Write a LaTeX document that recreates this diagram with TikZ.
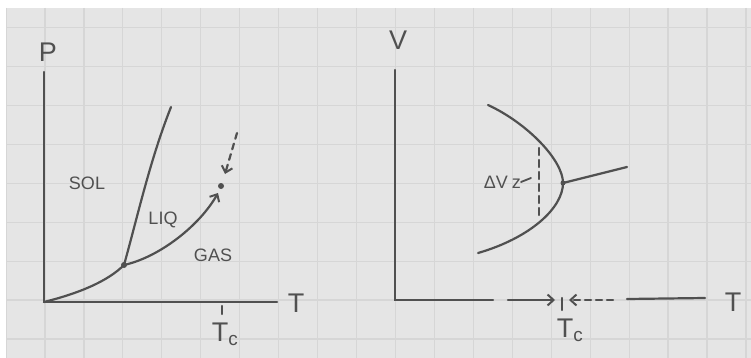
\documentclass[tikz,border=0pt]{standalone}
\usepackage{fontspec}
\setmainfont{Liberation Sans}
\usetikzlibrary{arrows.meta}
\definecolor{paper}{RGB}{229,229,229}
\definecolor{gridc}{RGB}{214,214,214}
\definecolor{pencil}{RGB}{80,80,80}
\begin{document}
\begin{tikzpicture}[x=1pt,y=-1pt,
  pen/.style={draw=pencil, line width=2.2pt, line cap=round},
  dsh/.style={pen, dash pattern=on 6pt off 5pt},
  lbl/.style={text=pencil, font=\fontsize{18}{18}\selectfont, inner sep=0pt},
  big/.style={text=pencil, font=\fontsize{27}{27}\selectfont, inner sep=0pt},
  barb/.style={-{Straight Barb[length=6pt,width=11pt,line width=2pt]}},
  pt/.style={circle, fill=pencil, inner sep=0pt, minimum size=6pt}]
\useasboundingbox (0,0) rectangle (751,358);
\fill[white] (0,0) rectangle (751,358);
\fill[paper] (6,8) rectangle (751,358);
\begin{scope}
  \clip (6,8) rectangle (751,358);
  \foreach \k in {-1,...,18} \draw[gridc, line width=1.2pt] ({45+\k*38.94},8) -- ({45+\k*38.94},358);
  \foreach \k in {-1,...,8} \draw[gridc, line width=1.2pt] (6,{300-\k*38.9}) -- (751,{300-\k*38.9});
\end{scope}

% ---------- left panel: P-T diagram ----------
\coordinate (O1) at (44,302);
\coordinate (Ptop) at (44,72);
\coordinate (Tend) at (277,302);
\draw[pen] (Ptop) -- (O1) -- (Tend);
\node[big] (P) at (48,52) {P};
\node[big] (T1) at (296,303) {T};
\coordinate (tk1a) at (222,306);
\coordinate (tk1b) at (222,314);
\draw[pen] (tk1a) -- (tk1b);
\node[big] (Tc1) at (225,334) {T\textsubscript{c}};

\coordinate (TP) at (124,265);
\coordinate (M) at (171,107);
\coordinate (A1) at (218,193);
\coordinate (CP) at (221,186);
\coordinate (D0) at (237,133);
\coordinate (D1) at (225,174);
\draw[pen] (O1) .. controls (80,293) and (108,281) .. (TP);
\draw[pen] (TP) .. controls (138,215) and (150,160) .. (M);
\draw[pen, barb] (TP) .. controls (160,257) and (200,225) .. (A1);
\draw[dsh, barb] (D0) -- (D1);
\node[pt] (tpdot) at (TP) {};
\node[pt] (cpdot) at (CP) {};

\node[lbl] (SOL) at (87,183) {SOL};
\node[lbl] (LIQ) at (163,220) {LIQ};
\node[lbl] (GAS) at (213,255) {GAS};

% ---------- right panel: V-T diagram ----------
\coordinate (Vtop) at (395,70);
\coordinate (O2) at (395,300);
\coordinate (Xa) at (493,300);
\draw[pen] (Vtop) -- (O2) -- (Xa);
\node[big] (V) at (398,40) {V};
\coordinate (Ra0) at (508,300);
\coordinate (Ra1) at (555,300);
\draw[pen, barb] (Ra0) -- (Ra1);
\coordinate (tk2a) at (562,298);
\coordinate (tk2b) at (562,310);
\draw[pen] (tk2a) -- (tk2b);
\coordinate (La0) at (613,300);
\coordinate (La1) at (569,300);
\draw[dsh, barb] (La0) -- (La1);
\coordinate (Xb0) at (627,299);
\coordinate (Xb1) at (705,298);
\draw[pen] (Xb0) -- (Xb1);
\node[big] (T2) at (733,302) {T};
\node[big] (Tc2) at (570,330) {T\textsubscript{c}};

\coordinate (Btop) at (488,105);
\coordinate (Vx) at (563,183);
\coordinate (Bbot) at (478,253);
\coordinate (Br) at (627,167);
\draw[pen] (Btop) .. controls (527,123) and (563,160) .. (Vx)
               .. controls (563,208) and (530,238) .. (Bbot);
\draw[pen] (Vx) -- (Br);
\node[pt, minimum size=5pt] (vdot) at (Vx) {};
\coordinate (dv0) at (539,148);
\coordinate (dv1) at (539,215);
\draw[dsh, dash pattern=on 7pt off 5pt] (dv0) -- (dv1);
\node[lbl, anchor=east] (dV) at (521,182) {ΔV\hspace{4pt}z};
\coordinate (ld) at (531,178);
\draw[pen, line width=1.8pt] (dV.east) -- (ld);
\end{tikzpicture}
\end{document}
